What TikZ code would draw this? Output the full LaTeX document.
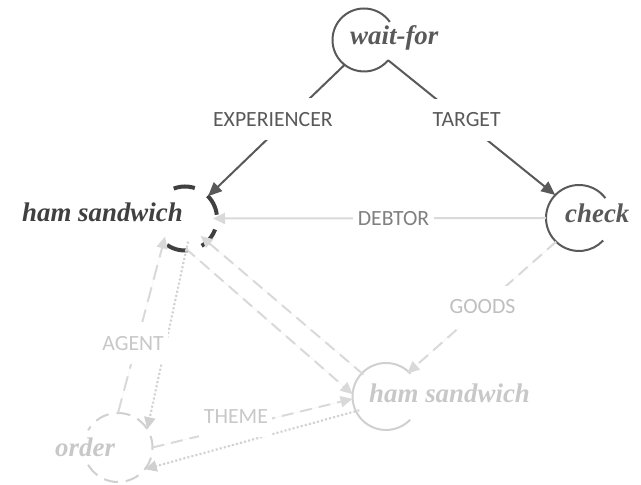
\documentclass[tikz,border=0pt]{standalone}
\usepackage{fontspec}
\setmainfont{Liberation Serif}
\newfontfamily\rolefont{Carlito}
\usetikzlibrary{arrows.meta}

\definecolor{inkdark}{HTML}{595959}
\definecolor{inkdeep}{HTML}{404040}
\definecolor{inklight}{HTML}{D9D9D9}
\definecolor{inkdots}{HTML}{D0D0D0}
\definecolor{inkpale}{HTML}{C8C8C8}
\definecolor{inkring}{HTML}{D0D0D0}
\definecolor{inkmid}{HTML}{808080}
\definecolor{inksoft}{HTML}{BFBFBF}

\begin{document}
\begin{tikzpicture}[x=1bp,y=1bp,
  hub/.style={circle, draw=none, inner sep=0pt, outer sep=0pt, minimum size=#1},
  concept/.style={font=\fontsize{27}{30}\selectfont\bfseries\itshape, inner sep=0pt},
  role/.style={font=\rolefont\fontsize{21.8}{26}\selectfont, fill=white,
    text height=14bp, text depth=0bp, inner xsep=4.5bp, inner ysep=14bp},
  tipbig/.style={-{Triangle[length=14bp,width=12bp]}},
  tipsmall/.style={-{Triangle[length=12bp,width=11bp]}},
  strongedge/.style={draw=inkdark, fill=inkdark, line width=2bp, tipbig},
  faintedge/.style={draw=inklight, fill=inklight, line width=2bp, tipsmall},
  dashedge/.style={faintedge, dash pattern=on 12bp off 7bp},
  longdashedge/.style={faintedge, dash pattern=on 15bp off 8bp},
  dotedge/.style={faintedge, draw=inkdots, fill=inkdots, line width=2.2bp, dash pattern=on 1.8bp off 2.4bp},
  ring/.style={line width=2bp},
]
\useasboundingbox (0,0) rectangle (641,485);

% concept anchors (circles) and their names
\node[hub=63bp] (W)   at (364,445)   {};
\node[hub=64bp] (HS1) at (185,266.5) {};
\node[hub=66bp] (C)   at (579,267)   {};
\node[hub=67bp] (HS2) at (386,88.5)  {};
\node[hub=69bp] (O)   at (118,37.5)  {};

% open rings around the concepts
\draw[ring, inkdark] ([shift={(35:31.5)}]W.center) arc[start angle=35, end angle=320, radius=31.5];
\draw[ring, inkdark] ([shift={(37:33)}]C.center) arc[start angle=37, end angle=317, radius=33];
\draw[ring, inkring] ([shift={(43:33.5)}]HS2.center) arc[start angle=43, end angle=316, radius=33.5];
\draw[inkdeep, line width=4bp, dash pattern=on 21.5bp off 15bp]
  ([shift={(-124:32)}]HS1.center) arc[start angle=-124, end angle=111, radius=32];
\draw[inkring, line width=2bp, dash pattern=on 14bp off 8bp]
  ([shift={(-150:34.5)}]O.center) arc[start angle=-150, end angle=150, radius=34.5];

% concept names
\node[concept, text=inkdark, anchor=base west] (Wt)   at (350,440) {wait-for};
\node[concept, text=inkdeep, anchor=base east] (HS1t) at (183,263) {ham sandwich};
\node[concept, text=inkdark, anchor=base west] (Ct)   at (565,262) {check};
\node[concept, text=inkpale, anchor=base west] (HS2t) at (369,82)  {ham sandwich};
\node[concept, text=inkpale, anchor=base west] (Ot)   at (55,28)   {order};

% active roles
\draw[strongedge] (W.232.8) -- node[role, text=inkdark, pos=0.415, xshift=-15bp] (lexp) {EXPERIENCER} (HS1.44.4);
\draw[strongedge] (W.-40) -- node[role, text=inkdark, pos=0.44, xshift=5bp] (ltgt) {TARGET} (C.136);

% faded roles
\draw[faintedge, shorten >=-4bp] (C.180) -- node[role, text=inkmid, pos=0.4635] (ldeb) {DEBTOR} (HS1.0);
\draw[dashedge, shorten >=-2bp] (C.226) -- node[role, text=inksoft, pos=0.5] (lgoods) {GOODS} (HS2.47.8);
\draw[dashedge, shorten <=-2.6bp] (HS1.-85) -- (HS2.176);
\draw[dashedge, shorten <=-2bp, shorten >=-8.7bp] (HS2.136.7) -- (HS1.-46.5);
\draw[dotedge, shorten <=-9bp] (HS1.272) -- (O.32);
\draw[longdashedge, shorten >=-6bp] (O.90) -- node[role, text=inkpale, pos=0.409, xshift=-3.5bp] (lagent) {AGENT} (HS1.228.7);
\draw[dotedge, shorten <=-3.5bp] (HS2.206.6) -- (O.-39.8);
\draw[dashedge] (O.0) -- node[role, text=inkpale, pos=0.417, yshift=11bp] (ltheme) {THEME} (HS2.184);
\end{tikzpicture}
\end{document}
